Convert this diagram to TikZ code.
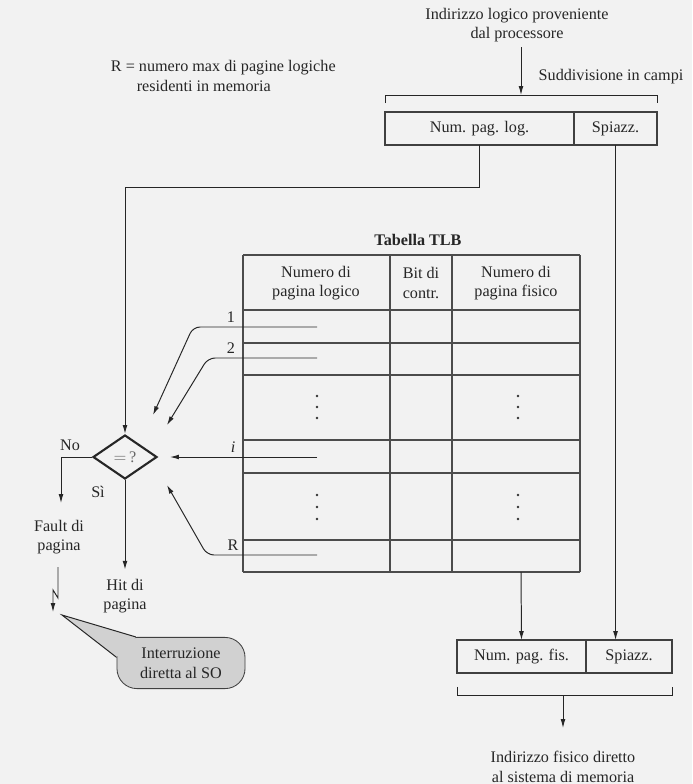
\documentclass[tikz,border=0pt]{standalone}
\usepackage{fontspec}
\setmainfont{Liberation Serif}
\usetikzlibrary{arrows.meta,calc,positioning,shapes.geometric}

\begin{document}
\begin{tikzpicture}[x=0.025cm,y=-0.025cm,
  every node/.style={font=\fontsize{11.5}{14}\selectfont,text=black!85},
  link/.style={line width=0.7pt,draw=black!85},
  arr/.style={link,-{Latex[length=2.2mm,width=1.2mm]}},
  field/.style={draw=black!75,line width=1.1pt,minimum height=0.82cm,inner sep=0pt,outer sep=0pt},
  grid/.style={draw=black!70,line width=0.9pt},
  test/.style={diamond,draw=black!85,line width=1.5pt,minimum width=1.6cm,minimum height=1.1cm,inner sep=0pt,text=black!60},
  bubble/.style={rounded corners=0.5cm,fill=black!18,draw=black!75,line width=0.6pt,
    minimum width=3.2cm,minimum height=1.28cm,align=center}]
  \fill[black!5] (0,0) rectangle (692,784);
  \path[use as bounding box] (0,0) rectangle (692,784);

  % Logical address and its two fields.
  \node[align=center] (src) at (517,25) {Indirizzo logico proveniente\\dal processore};
  \node[align=left,anchor=west] (rnote) at (106,76)
    {R = numero max di pagine logiche\\\hspace*{1.6em}residenti in memoria};
  \node (split) at (611,77) {Suddivisione in campi};
  \coordinate (splitin) at (521,95);
  \draw[arr] (src.south -| splitin) -- (splitin);
  \node[field,minimum width=4.725cm,anchor=north west] (logbox) at (385,112) {Num. pag. log.};
  \node[field,minimum width=2.075cm,right=0pt of logbox] (offlog) {Spiazz.};
  \draw[link] ($(logbox.north west)+(0,-9)$) -- ++(0,-8) -| ($(offlog.north east)+(0,-9)$);

  % TLB table.
  \node[font=\fontsize{11.5}{14}\selectfont\bfseries] (tlbtitle) at (418,240) {Tabella TLB};
  \foreach \y in {255,310,343,375,440,473,540,572}
    \draw[grid] (243,\y) -- (580,\y);
  \foreach \x in {243,390,452,580}
    \draw[grid] (\x,255) -- (\x,572);
  \node[align=center] (hlog) at (316,283) {Numero di\\pagina logico};
  \node[align=center] (hbit) at (421,283) {Bit di\\contr.};
  \node[align=center] (hfis) at (516,283) {Numero di\\pagina fisico};
  \foreach \x in {317,518}
    \foreach \y in {396,407,418,495,507,519}
      \fill[black!80] (\x,\y) circle (0.9pt);

  % Comparator and its inputs from the rows.
  \node[test] (test) at (125,457) {$=$\,?};
  \coordinate (r1) at (317,327);
  \coordinate (r2) at (317,358);
  \coordinate (ri) at (317,457);
  \coordinate (rR) at (317,555);
  \coordinate (in1) at (153,415);
  \coordinate (in2) at (167,425);
  \coordinate (ini) at (170,457);
  \coordinate (inR) at (167,485);
  \draw[arr,rounded corners=5pt] (r1) -- ++(-124,0) -- (in1);
  \draw[arr,rounded corners=5pt] (r2) -- ++(-109,0) -- (in2);
  \draw[arr] (ri) -- (ini);
  \draw[arr,rounded corners=5pt] (rR) -- ++(-110,0) -- (inR);
  \node (l1) at (231,317) {1};
  \node (l2) at (231,348) {2};
  \node (li) at (233,447) {\itshape i};
  \node (lR) at (233,545) {R};
  \draw[arr] (logbox.south) -- ++(0,43) -| (test.north);

  % Outcomes.
  \node (no) at (70,445) {No};
  \node (si) at (98,492) {Sì};
  \node[align=center] (fault) at (59,537) {Fault di\\pagina};
  \node[align=center] (hit) at (125,596) {Hit di\\pagina};
  \coordinate (nofork) at (61,503);
  \draw[arr] (test.west) -| (nofork);
  \draw[arr] (test.south) -- ([yshift=3pt]hit.north);
  \node[bubble] (irq) at (181,663) {Interruzione\\diretta al SO};
  \coordinate (irqtip) at (62,615);
  \fill[black!18] (irqtip) -- (irq.150) -- (irq.175) -- cycle;
  \draw[link] (irq.150) -- (irqtip) -- (irq.175);
  \draw[arr] (58,567) -- (58,598) -- (53,590) -- (53,612);

  % Physical address.
  \node[field,minimum width=3.225cm,anchor=north west] (fisbox) at (457,640) {Num. pag. fis.};
  \node[field,minimum width=2.15cm,right=0pt of fisbox] (offfis) {Spiazz.};
  \coordinate (tlbout) at (521,572);
  \draw[arr] (tlbout) -- (fisbox.north);
  \draw[arr] (offlog.south) -- (offlog.south |- offfis.north);
  \draw[link] ($(fisbox.south west)+(0,14)$) -- ++(0,9) -| ($(offfis.south east)+(0,14)$);
  \coordinate (merge) at (563,696);
  \node[align=center] (dest) at (563,767) {Indirizzo fisico diretto\\al sistema di memoria};
  \draw[arr] (merge) -- ++(0,32);
\end{tikzpicture}
\end{document}
